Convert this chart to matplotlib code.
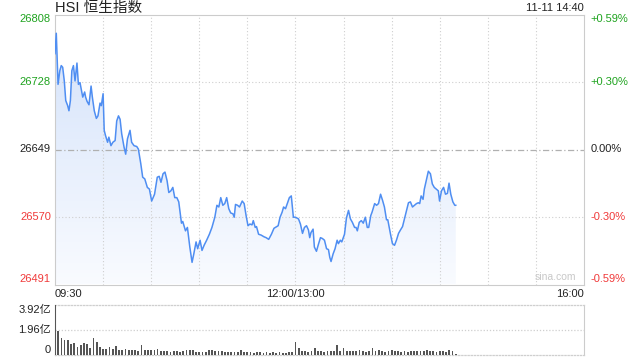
import numpy as np
import matplotlib
matplotlib.use('Agg')
import matplotlib.pyplot as plt
from matplotlib.colors import LinearSegmentedColormap

# --- Fonts ---
plt.rcParams['font.family'] = ['Liberation Sans', 'Noto Sans CJK SC']

# --- Chart data ---
PREV_CLOSE = 26649.5      # 0.00% line
PRICE_SPAN = 158.5        # distance from prev close to the top / bottom edge

# minutes on the trading clock (09:30 = 0, 12:00 = 13:00 = 150, 16:00 = 330)
price_minutes = [
    0, 0.8, 1.9, 3.0, 3.9, 4.8, 5.8, 6.7, 7.9, 8.7, 9.6, 10.5, 11.5, 12.5, 13.7,
    14.6, 15.6, 16.4, 17.3, 18.5, 19.1, 20.0, 21.2, 22.5, 23.3, 24.5, 25.8, 26.8,
    28.1, 28.9, 30.0, 30.7, 31.5, 32.8, 33.6, 34.9, 36.1, 37.5, 38.5, 39.6, 40.6,
    41.6, 43.1, 44.1, 45.2, 46.8, 47.8, 49.3, 51.0, 52.0, 53.5, 54.7, 56.0, 57.6,
    58.9, 60.3, 61.7, 62.1, 63.8, 65.0, 66.1, 67.4, 68.6, 69.9, 71.0, 72.3, 73.5,
    74.7, 76.0, 77.2, 78.9, 79.7, 81.4, 82.6, 84.1, 85.5, 86.6, 88.0, 89.0, 90.5,
    91.7, 93.0, 94.6, 96.3, 97.9, 99.7, 101.0, 102.2, 103.4, 104.7, 105.9, 107.1,
    108.4, 109.6, 111.0, 111.8, 112.6, 113.9, 115.1, 116.8, 118.0, 119.2, 120.4,
    121.6, 122.9, 123.7, 124.9, 125.7, 127.0, 128.6, 130.4, 131.7, 133.3, 135.0,
    136.6, 138.3, 139.2, 140.4, 141.7, 142.6, 143.8, 144.9, 146.2, 147.4, 148.7,
    150.0, 151.9, 153.1, 154.4, 155.6, 156.9, 158.1, 158.9, 159.7, 161.0, 161.8,
    163.1, 164.3, 165.6, 166.8, 168.1, 169.4, 170.6, 171.4, 172.2, 173.5, 174.7,
    176.0, 176.8, 178.0, 178.9, 180.6, 181.8, 183.1, 184.3, 185.5, 186.9, 187.8,
    188.6, 189.8, 191.1, 192.3, 193.6, 194.8, 195.7, 197.0, 197.8, 199.4, 200.6,
    201.8, 203.1, 204.3, 205.5, 206.8, 207.6, 209.3, 210.5, 211.8, 213.0, 214.3,
    215.5, 216.8, 218.0, 219.3, 220.5, 221.7, 223.0, 224.2, 225.5, 226.7, 227.5,
    228.4, 229.6, 230.4, 231.7, 232.9, 234.2, 235.4, 236.6, 237.9, 239.1, 239.9,
    241.1, 242.4, 243.6, 244.8, 245.8, 246.9, 248.2, 249.4, 250.0,
]
price_values = [
    26762, 26786, 26726, 26742, 26748, 26746, 26730, 26707, 26701, 26695, 26707,
    26742, 26748, 26730, 26751, 26726, 26728, 26720, 26711, 26717, 26711, 26706,
    26702, 26724, 26711, 26695, 26686, 26689, 26704, 26701, 26715, 26672, 26666,
    26658, 26664, 26654, 26658, 26660, 26683, 26689, 26685, 26668, 26652, 26644,
    26662, 26672, 26658, 26654, 26653, 26650, 26633, 26617, 26615, 26605, 26603,
    26589, 26595, 26597, 26617, 26618, 26611, 26621, 26623, 26613, 26599, 26601,
    26605, 26593, 26593, 26588, 26563, 26565, 26554, 26558, 26535, 26517, 26527,
    26541, 26533, 26543, 26531, 26537, 26543, 26550, 26558, 26570, 26584, 26582,
    26593, 26584, 26586, 26593, 26580, 26575, 26574, 26570, 26585, 26584, 26582,
    26589, 26586, 26572, 26560, 26562, 26561, 26566, 26558, 26559, 26550, 26549,
    26547, 26546, 26544, 26550, 26557, 26559, 26560, 26570, 26576, 26582, 26580,
    26586, 26593, 26595, 26570, 26570, 26568, 26562, 26551, 26558, 26560, 26555,
    26546, 26552, 26556, 26535, 26530, 26538, 26546, 26545, 26543, 26533, 26532,
    26523, 26518, 26527, 26533, 26543, 26539, 26543, 26541, 26550, 26569, 26578,
    26568, 26564, 26558, 26558, 26554, 26564, 26566, 26563, 26570, 26558, 26558,
    26572, 26576, 26586, 26584, 26586, 26597, 26590, 26582, 26567, 26567, 26550,
    26539, 26537, 26543, 26551, 26555, 26559, 26568, 26578, 26587, 26588, 26582,
    26584, 26586, 26587, 26586, 26595, 26591, 26603, 26614, 26624, 26621, 26609,
    26605, 26603, 26601, 26589, 26601, 26605, 26597, 26598, 26610, 26597, 26588,
    26584, 26584,
]

# volume (亿), one bar per two minutes, 09:30 -> 14:40
vol_am = [
    3.92, 1.85, 1.30, 1.20, 1.20, 0.85, 0.90, 0.60, 0.75, 0.90, 0.85, 0.55, 1.30,
    0.99, 0.60, 0.50, 0.50, 0.60, 0.47, 0.73, 0.37, 0.42, 0.50, 0.37, 0.42, 0.37,
    0.35, 0.78, 0.42, 0.37, 0.42, 0.42, 0.50, 0.30, 0.30, 0.30, 0.27, 0.30, 0.30,
    0.27, 0.35, 0.37, 0.42, 0.37, 0.22, 0.22, 0.25, 0.27, 0.37, 0.37, 0.30, 0.30,
    0.35, 0.25, 0.25, 0.27, 0.22, 0.25, 0.37, 0.25, 0.22, 0.27, 0.16, 0.20, 0.20,
    0.15, 0.20, 0.18, 0.20, 0.15, 0.20, 0.15, 0.12, 0.20, 0.22,
]
vol_pm = [
    1.00, 0.57, 0.30, 0.30, 0.25, 0.30, 0.52, 0.30, 0.30, 0.25, 0.30, 0.30, 0.35,
    0.76, 0.35, 0.52, 0.35, 0.30, 0.30, 0.35, 0.42, 0.35, 0.25, 0.35, 0.52, 0.35,
    0.40, 0.30, 0.25, 0.30, 0.42, 0.30, 0.35, 0.25, 0.30, 0.25, 0.30, 0.35, 0.30,
    0.30, 0.35, 0.42, 0.30, 0.30, 0.25, 0.30, 0.35, 0.25, 0.37, 0.30, 0.05,
]
VOL_MAX = 3.92

x_tick_minutes = [0, 150, 330]
x_tick_labels = ['09:30', '12:00/13:00', '16:00']

# --- Styling ---
W, H = 640, 360
LINE_BLUE = '#4f8ef2'
GREEN = '#1fa31f'
RED = '#f03a3a'
GRID = '#cfcfcf'
SPINE = '#cccccc'


def px_box(x0, y0, x1, y1):
    """Pixel box (top-left origin) -> figure fraction rect."""
    return [x0 / W, 1 - y1 / H, (x1 - x0) / W, (y1 - y0) / H]


fig = plt.figure(figsize=(6.4, 3.6), dpi=100)
ax = fig.add_axes(px_box(55, 14.5, 584, 284.5))
vax = fig.add_axes(px_box(55, 304.7, 584, 355))

# --- Price panel ---
y_lo = PREV_CLOSE - PRICE_SPAN
y_hi = PREV_CLOSE + PRICE_SPAN
ax.set_xlim(0, 330)
ax.set_ylim(y_lo, y_hi)

t = np.array(price_minutes)
p = np.array(price_values)

# gradient fill under the line
fill = ax.fill_between(t, p, y_lo, color='none', lw=0)
cmap = LinearSegmentedColormap.from_list('fade', ['#f9fbff', '#d2e1fa'])
grad = np.linspace(0, 1, 256).reshape(-1, 1)
im = ax.imshow(grad, cmap=cmap, origin='lower', aspect='auto',
               extent=[0, 330, y_lo, y_hi], zorder=1)
im.set_clip_path(fill.get_paths()[0], transform=ax.transData)
ax.plot(t, p, color=LINE_BLUE, lw=1.1, zorder=3)

# grid: every 30 minutes, quarter price levels
for m in range(30, 330, 30):
    ax.axvline(m, color=GRID, lw=0.8, ls=(0, (1, 2)), zorder=2)
ax.axhline(PREV_CLOSE + PRICE_SPAN / 2, color=GRID, lw=0.8, ls=(0, (1, 2)), zorder=2)
ax.axhline(PREV_CLOSE - PRICE_SPAN / 2, color=GRID, lw=0.8, ls=(0, (1, 2)), zorder=2)
ax.axhline(PREV_CLOSE, color='#b0b0b0', lw=0.9, ls=(0, (5, 2, 1, 2)), zorder=2)

for s in ax.spines.values():
    s.set_color(SPINE)
    s.set_linewidth(0.8)

levels = [y_hi, PREV_CLOSE + PRICE_SPAN / 2, PREV_CLOSE,
          PREV_CLOSE - PRICE_SPAN / 2, y_lo]
colors = [GREEN, GREEN, '#222222', RED, RED]
ax.set_yticks(levels)
ax.set_yticklabels([str(int(v)) for v in levels])
ax.tick_params(axis='y', length=0, pad=3, labelsize=8)
for lab, c, va in zip(ax.get_yticklabels(), colors,
                      ['top', 'center', 'center', 'center', 'bottom']):
    lab.set_color(c)
    lab.set_va(va)

ax2 = ax.twinx()
ax2.set_ylim(y_lo, y_hi)
ax2.set_yticks(levels)
pct_labels = []
for v in levels:
    pct = (v - PREV_CLOSE) / PREV_CLOSE * 100
    pct_labels.append('0.00%' if abs(pct) < 1e-9 else f'{pct:+.2f}%')
ax2.set_yticklabels(pct_labels)
ax2.tick_params(axis='y', length=0, pad=4.5, labelsize=8)
for lab, c, va in zip(ax2.get_yticklabels(), colors,
                      ['top', 'center', 'center', 'center', 'bottom']):
    lab.set_color(c)
    lab.set_va(va)
for s in ax2.spines.values():
    s.set_visible(False)

ax.set_xticks(x_tick_minutes)
ax.set_xticklabels(x_tick_labels)
ax.tick_params(axis='x', length=0, pad=3, labelsize=8, colors='#222222')
for lab, ha in zip(ax.get_xticklabels(), ['left', 'center', 'right']):
    lab.set_ha(ha)

ax.text(0.985, 0.008, 'sina.com', transform=ax.transAxes, ha='right',
        va='bottom', fontsize=7.5, color='#c8c8c8')

# header texts
fig.text(55 / W, 1 - 8 / H, 'HSI 恒生指数', ha='left', va='center',
         fontsize=10.5, color='#222222')
fig.text(584 / W, 1 - 8 / H, '11-11 14:40', ha='right', va='center',
         fontsize=8, color='#222222')

# --- Volume panel ---
vol = vol_am + vol_pm
vol_minutes = list(range(0, 150, 2)) + list(range(150, 251, 2))
vax.bar(vol_minutes, vol, width=1.1, color='#555555', align='center', zorder=3)
vax.set_xlim(0, 330)
vax.set_ylim(0, VOL_MAX)
vax.set_xticks([])
vax.set_yticks([VOL_MAX, VOL_MAX / 2, 0])
vax.set_yticklabels(['3.92亿', '1.96亿', '0'])
vax.tick_params(axis='y', length=0, pad=3, labelsize=8, colors='#222222')
for lab, va in zip(vax.get_yticklabels(), ['top', 'center', 'bottom']):
    lab.set_va(va)
vax.axhline(VOL_MAX / 2, color=GRID, lw=0.9, ls=(0, (1, 1.5)), zorder=1)
for side in ['top', 'bottom']:
    vax.spines[side].set_linestyle((0, (1, 1.5)))
    vax.spines[side].set_color(GRID)
    vax.spines[side].set_linewidth(0.9)
vax.spines['left'].set_color('#888888')
vax.spines['left'].set_linewidth(0.8)
vax.spines['right'].set_color(SPINE)
vax.spines['right'].set_linewidth(0.8)

fig.savefig('out.png', dpi=100)
